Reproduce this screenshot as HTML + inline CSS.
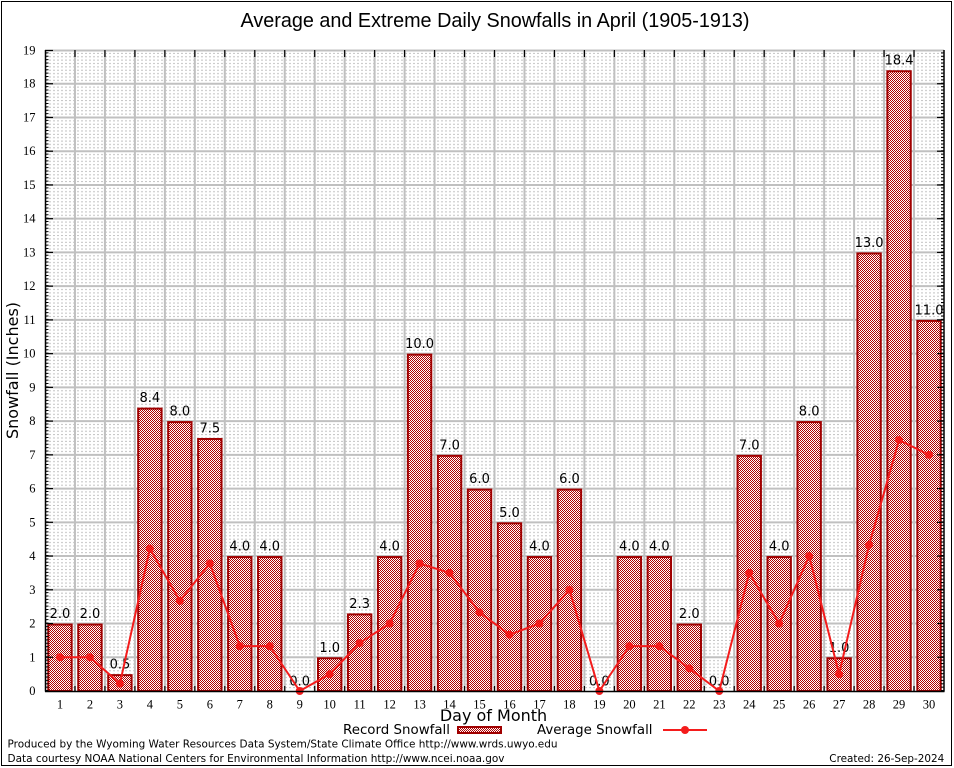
<!DOCTYPE html>
<html><head><meta charset="utf-8"><style>
html,body{margin:0;padding:0;background:#fff;}
svg{display:block;}
</style></head><body>
<svg width="954" height="768" viewBox="0 0 954 768" xmlns="http://www.w3.org/2000/svg">
<defs>
<pattern id="mg" patternUnits="userSpaceOnUse" x="45" y="50" width="4" height="33.737">
<rect x="0" y="2.87" width="2" height="1" fill="#c2c2c2"/>
<rect x="0" y="6.25" width="2" height="1" fill="#c2c2c2"/>
<rect x="0" y="9.62" width="2" height="1" fill="#c2c2c2"/>
<rect x="0" y="13.0" width="2" height="1" fill="#c2c2c2"/>
<rect x="0" y="16.37" width="2" height="1" fill="#c2c2c2"/>
<rect x="0" y="19.74" width="2" height="1" fill="#c2c2c2"/>
<rect x="0" y="23.12" width="2" height="1" fill="#c2c2c2"/>
<rect x="0" y="26.49" width="2" height="1" fill="#c2c2c2"/>
<rect x="0" y="29.86" width="2" height="1" fill="#c2c2c2"/>
</pattern>
<pattern id="ck" patternUnits="userSpaceOnUse" x="0" y="0" width="2" height="2">
<rect x="0" y="0" width="2" height="2" fill="#fff"/>
<rect x="0" y="0" width="1" height="1" fill="#b00000"/>
<rect x="1" y="1" width="1" height="1" fill="#b00000"/>
</pattern>
</defs>
<rect x="0" y="0" width="954" height="768" fill="#fff"/>
<rect x="1.5" y="1.5" width="950" height="764" fill="none" stroke="#000" stroke-width="1"/>

<text x="495" y="27" text-anchor="middle" font-family="Liberation Sans, sans-serif" font-size="20" textLength="509" lengthAdjust="spacingAndGlyphs" fill="#000">Average and Extreme Daily Snowfalls in April (1905-1913)</text>

<rect x="45" y="50" width="899" height="641" fill="url(#mg)"/>

<g stroke="#c0c0c0" stroke-width="2">
<line x1="45" x2="944" y1="657.26" y2="657.26"/>
<line x1="45" x2="944" y1="623.53" y2="623.53"/>
<line x1="45" x2="944" y1="589.79" y2="589.79"/>
<line x1="45" x2="944" y1="556.05" y2="556.05"/>
<line x1="45" x2="944" y1="522.32" y2="522.32"/>
<line x1="45" x2="944" y1="488.58" y2="488.58"/>
<line x1="45" x2="944" y1="454.84" y2="454.84"/>
<line x1="45" x2="944" y1="421.10" y2="421.10"/>
<line x1="45" x2="944" y1="387.37" y2="387.37"/>
<line x1="45" x2="944" y1="353.63" y2="353.63"/>
<line x1="45" x2="944" y1="319.89" y2="319.89"/>
<line x1="45" x2="944" y1="286.16" y2="286.16"/>
<line x1="45" x2="944" y1="252.42" y2="252.42"/>
<line x1="45" x2="944" y1="218.68" y2="218.68"/>
<line x1="45" x2="944" y1="184.95" y2="184.95"/>
<line x1="45" x2="944" y1="151.21" y2="151.21"/>
<line x1="45" x2="944" y1="117.47" y2="117.47"/>
<line x1="45" x2="944" y1="83.73" y2="83.73"/>
<line x1="45" x2="944" y1="50.5" y2="50.5"/>
</g>
<g stroke="#c0c0c0" stroke-width="2">
<line y1="50" y2="691" x1="74.97" x2="74.97"/>
<line y1="50" y2="691" x1="104.93" x2="104.93"/>
<line y1="50" y2="691" x1="134.90" x2="134.90"/>
<line y1="50" y2="691" x1="164.87" x2="164.87"/>
<line y1="50" y2="691" x1="194.83" x2="194.83"/>
<line y1="50" y2="691" x1="224.80" x2="224.80"/>
<line y1="50" y2="691" x1="254.77" x2="254.77"/>
<line y1="50" y2="691" x1="284.73" x2="284.73"/>
<line y1="50" y2="691" x1="314.70" x2="314.70"/>
<line y1="50" y2="691" x1="344.67" x2="344.67"/>
<line y1="50" y2="691" x1="374.63" x2="374.63"/>
<line y1="50" y2="691" x1="404.60" x2="404.60"/>
<line y1="50" y2="691" x1="434.57" x2="434.57"/>
<line y1="50" y2="691" x1="464.53" x2="464.53"/>
<line y1="50" y2="691" x1="494.50" x2="494.50"/>
<line y1="50" y2="691" x1="524.47" x2="524.47"/>
<line y1="50" y2="691" x1="554.43" x2="554.43"/>
<line y1="50" y2="691" x1="584.40" x2="584.40"/>
<line y1="50" y2="691" x1="614.37" x2="614.37"/>
<line y1="50" y2="691" x1="644.33" x2="644.33"/>
<line y1="50" y2="691" x1="674.30" x2="674.30"/>
<line y1="50" y2="691" x1="704.27" x2="704.27"/>
<line y1="50" y2="691" x1="734.23" x2="734.23"/>
<line y1="50" y2="691" x1="764.20" x2="764.20"/>
<line y1="50" y2="691" x1="794.17" x2="794.17"/>
<line y1="50" y2="691" x1="824.13" x2="824.13"/>
<line y1="50" y2="691" x1="854.10" x2="854.10"/>
<line y1="50" y2="691" x1="884.07" x2="884.07"/>
<line y1="50" y2="691" x1="914.03" x2="914.03"/>
</g>

<g fill="url(#ck)" stroke="#a00000" stroke-width="2">
<rect x="48.28" y="624.53" width="23.4" height="66.47"/>
<rect x="78.25" y="624.53" width="23.4" height="66.47"/>
<rect x="108.22" y="675.13" width="23.4" height="15.87"/>
<rect x="138.18" y="408.61" width="23.4" height="282.39"/>
<rect x="168.15" y="422.10" width="23.4" height="268.90"/>
<rect x="198.12" y="438.97" width="23.4" height="252.03"/>
<rect x="228.08" y="557.05" width="23.4" height="133.95"/>
<rect x="258.05" y="557.05" width="23.4" height="133.95"/>
<rect x="318.00" y="658.26" width="23.4" height="32.74"/>
<rect x="347.95" y="614.40" width="23.4" height="76.60"/>
<rect x="377.92" y="557.05" width="23.4" height="133.95"/>
<rect x="407.88" y="354.63" width="23.4" height="336.37"/>
<rect x="437.85" y="455.84" width="23.4" height="235.16"/>
<rect x="467.82" y="489.58" width="23.4" height="201.42"/>
<rect x="497.78" y="523.32" width="23.4" height="167.68"/>
<rect x="527.75" y="557.05" width="23.4" height="133.95"/>
<rect x="557.72" y="489.58" width="23.4" height="201.42"/>
<rect x="617.65" y="557.05" width="23.4" height="133.95"/>
<rect x="647.62" y="557.05" width="23.4" height="133.95"/>
<rect x="677.58" y="624.53" width="23.4" height="66.47"/>
<rect x="737.52" y="455.84" width="23.4" height="235.16"/>
<rect x="767.48" y="557.05" width="23.4" height="133.95"/>
<rect x="797.45" y="422.10" width="23.4" height="268.90"/>
<rect x="827.42" y="658.26" width="23.4" height="32.74"/>
<rect x="857.38" y="253.42" width="23.4" height="437.58"/>
<rect x="887.35" y="71.24" width="23.4" height="619.76"/>
<rect x="917.32" y="320.89" width="23.4" height="370.11"/>
</g>

<g font-family="DejaVu Sans, sans-serif" font-size="13" text-anchor="middle" fill="#000">
<text x="59.98" y="618">2.0</text>
<text x="89.95" y="618">2.0</text>
<text x="119.92" y="668.6">0.5</text>
<text x="149.88" y="402.1">8.4</text>
<text x="179.85" y="415.6">8.0</text>
<text x="209.82" y="432.5">7.5</text>
<text x="239.78" y="550.5">4.0</text>
<text x="269.75" y="550.5">4.0</text>
<text x="299.72" y="685.5">0.0</text>
<text x="329.68" y="651.8">1.0</text>
<text x="359.65" y="607.9">2.3</text>
<text x="389.62" y="550.5">4.0</text>
<text x="419.58" y="348.1">10.0</text>
<text x="449.55" y="449.3">7.0</text>
<text x="479.52" y="483.1">6.0</text>
<text x="509.48" y="516.8">5.0</text>
<text x="539.45" y="550.5">4.0</text>
<text x="569.42" y="483.1">6.0</text>
<text x="599.38" y="685.5">0.0</text>
<text x="629.35" y="550.5">4.0</text>
<text x="659.32" y="550.5">4.0</text>
<text x="689.28" y="618">2.0</text>
<text x="719.25" y="685.5">0.0</text>
<text x="749.22" y="449.3">7.0</text>
<text x="779.18" y="550.5">4.0</text>
<text x="809.15" y="415.6">8.0</text>
<text x="839.12" y="651.8">1.0</text>
<text x="869.08" y="246.9">13.0</text>
<text x="899.05" y="64.7">18.4</text>
<text x="929.02" y="314.4">11.0</text>
</g>

<polyline fill="none" stroke="#f41c1c" stroke-width="2" stroke-linejoin="round" points="59.98,657.26 89.95,657.26 119.92,683.58 149.88,548.63 179.85,600.92 209.82,563.47 239.78,646.13 269.75,646.13 299.72,691 329.68,674.13 359.65,643.09 389.62,623.53 419.58,563.47 449.55,572.92 479.52,612.39 509.48,634.66 539.45,623.53 569.42,589.79 599.38,691 629.35,646.13 659.32,646.13 689.28,668.40 719.25,691 749.22,572.92 779.18,623.53 809.15,556.05 839.12,674.13 869.08,544.92 899.05,440.00 929.02,454.84"/>
<g fill="#f41c1c">
<circle cx="59.98" cy="657.26" r="4"/>
<circle cx="89.95" cy="657.26" r="4"/>
<circle cx="119.92" cy="683.58" r="4"/>
<circle cx="149.88" cy="548.63" r="4"/>
<circle cx="179.85" cy="600.92" r="4"/>
<circle cx="209.82" cy="563.47" r="4"/>
<circle cx="239.78" cy="646.13" r="4"/>
<circle cx="269.75" cy="646.13" r="4"/>
<circle cx="299.72" cy="691" r="4"/>
<circle cx="329.68" cy="674.13" r="4"/>
<circle cx="359.65" cy="643.09" r="4"/>
<circle cx="389.62" cy="623.53" r="4"/>
<circle cx="419.58" cy="563.47" r="4"/>
<circle cx="449.55" cy="572.92" r="4"/>
<circle cx="479.52" cy="612.39" r="4"/>
<circle cx="509.48" cy="634.66" r="4"/>
<circle cx="539.45" cy="623.53" r="4"/>
<circle cx="569.42" cy="589.79" r="4"/>
<circle cx="599.38" cy="691" r="4"/>
<circle cx="629.35" cy="646.13" r="4"/>
<circle cx="659.32" cy="646.13" r="4"/>
<circle cx="689.28" cy="668.40" r="4"/>
<circle cx="719.25" cy="691" r="4"/>
<circle cx="749.22" cy="572.92" r="4"/>
<circle cx="779.18" cy="623.53" r="4"/>
<circle cx="809.15" cy="556.05" r="4"/>
<circle cx="839.12" cy="674.13" r="4"/>
<circle cx="869.08" cy="544.92" r="4"/>
<circle cx="899.05" cy="440.00" r="4"/>
<circle cx="929.02" cy="454.84" r="4"/>
</g>

<g stroke="#000" fill="none">
<line x1="45.5" y1="50" x2="45.5" y2="691.5" stroke-width="1.5"/>
<line x1="45" y1="691.5" x2="944.5" y2="691.5" stroke-width="1.5"/>
<line x1="944" y1="50" x2="944" y2="691.5" stroke-width="1.5"/>
<line x1="47" y1="691" x2="47" y2="50" stroke-width="3" stroke-dasharray="1 2.3737"/>
<line x1="942.5" y1="691" x2="942.5" y2="50" stroke-width="3" stroke-dasharray="1 2.3737"/>
</g>
<g stroke="#000" stroke-width="1.2">
<line x1="45" x2="53" y1="657.26" y2="657.26"/><line x1="937" x2="944" y1="657.26" y2="657.26"/>
<line x1="45" x2="53" y1="623.53" y2="623.53"/><line x1="937" x2="944" y1="623.53" y2="623.53"/>
<line x1="45" x2="53" y1="589.79" y2="589.79"/><line x1="937" x2="944" y1="589.79" y2="589.79"/>
<line x1="45" x2="53" y1="556.05" y2="556.05"/><line x1="937" x2="944" y1="556.05" y2="556.05"/>
<line x1="45" x2="53" y1="522.32" y2="522.32"/><line x1="937" x2="944" y1="522.32" y2="522.32"/>
<line x1="45" x2="53" y1="488.58" y2="488.58"/><line x1="937" x2="944" y1="488.58" y2="488.58"/>
<line x1="45" x2="53" y1="454.84" y2="454.84"/><line x1="937" x2="944" y1="454.84" y2="454.84"/>
<line x1="45" x2="53" y1="421.10" y2="421.10"/><line x1="937" x2="944" y1="421.10" y2="421.10"/>
<line x1="45" x2="53" y1="387.37" y2="387.37"/><line x1="937" x2="944" y1="387.37" y2="387.37"/>
<line x1="45" x2="53" y1="353.63" y2="353.63"/><line x1="937" x2="944" y1="353.63" y2="353.63"/>
<line x1="45" x2="53" y1="319.89" y2="319.89"/><line x1="937" x2="944" y1="319.89" y2="319.89"/>
<line x1="45" x2="53" y1="286.16" y2="286.16"/><line x1="937" x2="944" y1="286.16" y2="286.16"/>
<line x1="45" x2="53" y1="252.42" y2="252.42"/><line x1="937" x2="944" y1="252.42" y2="252.42"/>
<line x1="45" x2="53" y1="218.68" y2="218.68"/><line x1="937" x2="944" y1="218.68" y2="218.68"/>
<line x1="45" x2="53" y1="184.95" y2="184.95"/><line x1="937" x2="944" y1="184.95" y2="184.95"/>
<line x1="45" x2="53" y1="151.21" y2="151.21"/><line x1="937" x2="944" y1="151.21" y2="151.21"/>
<line x1="45" x2="53" y1="117.47" y2="117.47"/><line x1="937" x2="944" y1="117.47" y2="117.47"/>
<line x1="45" x2="53" y1="83.73" y2="83.73"/><line x1="937" x2="944" y1="83.73" y2="83.73"/>
<line x1="45" x2="53" y1="50.5" y2="50.5"/>
</g>
<g stroke="#000" stroke-width="1.2">
<line x1="74.97" x2="74.97" y1="50" y2="57"/><line x1="74.97" x2="74.97" y1="686" y2="691"/>
<line x1="104.93" x2="104.93" y1="50" y2="57"/><line x1="104.93" x2="104.93" y1="686" y2="691"/>
<line x1="134.90" x2="134.90" y1="50" y2="57"/><line x1="134.90" x2="134.90" y1="686" y2="691"/>
<line x1="164.87" x2="164.87" y1="50" y2="57"/><line x1="164.87" x2="164.87" y1="686" y2="691"/>
<line x1="194.83" x2="194.83" y1="50" y2="57"/><line x1="194.83" x2="194.83" y1="686" y2="691"/>
<line x1="224.80" x2="224.80" y1="50" y2="57"/><line x1="224.80" x2="224.80" y1="686" y2="691"/>
<line x1="254.77" x2="254.77" y1="50" y2="57"/><line x1="254.77" x2="254.77" y1="686" y2="691"/>
<line x1="284.73" x2="284.73" y1="50" y2="57"/><line x1="284.73" x2="284.73" y1="686" y2="691"/>
<line x1="314.70" x2="314.70" y1="50" y2="57"/><line x1="314.70" x2="314.70" y1="686" y2="691"/>
<line x1="344.67" x2="344.67" y1="50" y2="57"/><line x1="344.67" x2="344.67" y1="686" y2="691"/>
<line x1="374.63" x2="374.63" y1="50" y2="57"/><line x1="374.63" x2="374.63" y1="686" y2="691"/>
<line x1="404.60" x2="404.60" y1="50" y2="57"/><line x1="404.60" x2="404.60" y1="686" y2="691"/>
<line x1="434.57" x2="434.57" y1="50" y2="57"/><line x1="434.57" x2="434.57" y1="686" y2="691"/>
<line x1="464.53" x2="464.53" y1="50" y2="57"/><line x1="464.53" x2="464.53" y1="686" y2="691"/>
<line x1="494.50" x2="494.50" y1="50" y2="57"/><line x1="494.50" x2="494.50" y1="686" y2="691"/>
<line x1="524.47" x2="524.47" y1="50" y2="57"/><line x1="524.47" x2="524.47" y1="686" y2="691"/>
<line x1="554.43" x2="554.43" y1="50" y2="57"/><line x1="554.43" x2="554.43" y1="686" y2="691"/>
<line x1="584.40" x2="584.40" y1="50" y2="57"/><line x1="584.40" x2="584.40" y1="686" y2="691"/>
<line x1="614.37" x2="614.37" y1="50" y2="57"/><line x1="614.37" x2="614.37" y1="686" y2="691"/>
<line x1="644.33" x2="644.33" y1="50" y2="57"/><line x1="644.33" x2="644.33" y1="686" y2="691"/>
<line x1="674.30" x2="674.30" y1="50" y2="57"/><line x1="674.30" x2="674.30" y1="686" y2="691"/>
<line x1="704.27" x2="704.27" y1="50" y2="57"/><line x1="704.27" x2="704.27" y1="686" y2="691"/>
<line x1="734.23" x2="734.23" y1="50" y2="57"/><line x1="734.23" x2="734.23" y1="686" y2="691"/>
<line x1="764.20" x2="764.20" y1="50" y2="57"/><line x1="764.20" x2="764.20" y1="686" y2="691"/>
<line x1="794.17" x2="794.17" y1="50" y2="57"/><line x1="794.17" x2="794.17" y1="686" y2="691"/>
<line x1="824.13" x2="824.13" y1="50" y2="57"/><line x1="824.13" x2="824.13" y1="686" y2="691"/>
<line x1="854.10" x2="854.10" y1="50" y2="57"/><line x1="854.10" x2="854.10" y1="686" y2="691"/>
<line x1="884.07" x2="884.07" y1="50" y2="57"/><line x1="884.07" x2="884.07" y1="686" y2="691"/>
<line x1="914.03" x2="914.03" y1="50" y2="57"/><line x1="914.03" x2="914.03" y1="686" y2="691"/>
</g>

<g font-family="Liberation Serif, serif" font-size="12.5" text-anchor="end" fill="#000">
<text x="35.5" y="695">0</text>
<text x="35.5" y="661.3">1</text>
<text x="35.5" y="627.5">2</text>
<text x="35.5" y="593.8">3</text>
<text x="35.5" y="560">4</text>
<text x="35.5" y="526.3">5</text>
<text x="35.5" y="492.6">6</text>
<text x="35.5" y="458.8">7</text>
<text x="35.5" y="425.1">8</text>
<text x="35.5" y="391.4">9</text>
<text x="35.5" y="357.6">10</text>
<text x="35.5" y="323.9">11</text>
<text x="35.5" y="290.2">12</text>
<text x="35.5" y="256.4">13</text>
<text x="35.5" y="222.7">14</text>
<text x="35.5" y="189">15</text>
<text x="35.5" y="155.2">16</text>
<text x="35.5" y="121.5">17</text>
<text x="35.5" y="87.7">18</text>
<text x="35.5" y="54.5">19</text>
</g>

<g font-family="Liberation Serif, serif" font-size="12.5" text-anchor="middle" fill="#000">
<text x="59.98" y="708.5">1</text>
<text x="89.95" y="708.5">2</text>
<text x="119.92" y="708.5">3</text>
<text x="149.88" y="708.5">4</text>
<text x="179.85" y="708.5">5</text>
<text x="209.82" y="708.5">6</text>
<text x="239.78" y="708.5">7</text>
<text x="269.75" y="708.5">8</text>
<text x="299.72" y="708.5">9</text>
<text x="329.68" y="708.5">10</text>
<text x="359.65" y="708.5">11</text>
<text x="389.62" y="708.5">12</text>
<text x="419.58" y="708.5">13</text>
<text x="449.55" y="708.5">14</text>
<text x="479.52" y="708.5">15</text>
<text x="509.48" y="708.5">16</text>
<text x="539.45" y="708.5">17</text>
<text x="569.42" y="708.5">18</text>
<text x="599.38" y="708.5">19</text>
<text x="629.35" y="708.5">20</text>
<text x="659.32" y="708.5">21</text>
<text x="689.28" y="708.5">22</text>
<text x="719.25" y="708.5">23</text>
<text x="749.22" y="708.5">24</text>
<text x="779.18" y="708.5">25</text>
<text x="809.15" y="708.5">26</text>
<text x="839.12" y="708.5">27</text>
<text x="869.08" y="708.5">28</text>
<text x="899.05" y="708.5">29</text>
<text x="929.02" y="708.5">30</text>
</g>

<text x="493.5" y="721" text-anchor="middle" font-family="DejaVu Sans, sans-serif" font-size="16" fill="#000">Day of Month</text>
<text transform="translate(18,370.5) rotate(-90)" text-anchor="middle" font-family="DejaVu Sans, sans-serif" font-size="16" fill="#000">Snowfall (Inches)</text>

<text x="343" y="734" font-family="DejaVu Sans, sans-serif" font-size="13.3" textLength="107" lengthAdjust="spacingAndGlyphs" fill="#000">Record Snowfall</text>
<rect x="458" y="727" width="43" height="6" fill="url(#ck)" stroke="#a00000" stroke-width="2"/>
<text x="537" y="734" font-family="DejaVu Sans, sans-serif" font-size="13.3" textLength="115.5" lengthAdjust="spacingAndGlyphs" fill="#000">Average Snowfall</text>
<line x1="663" y1="730" x2="707" y2="730" stroke="#f41c1c" stroke-width="2"/>
<circle cx="685" cy="730" r="4" fill="#f41c1c"/>

<text x="7.5" y="747.5" font-family="DejaVu Sans, sans-serif" font-size="11" textLength="550" lengthAdjust="spacingAndGlyphs" fill="#000">Produced by the Wyoming Water Resources Data System/State Climate Office http://www.wrds.uwyo.edu</text>
<text x="7.5" y="762" font-family="DejaVu Sans, sans-serif" font-size="11" textLength="497" lengthAdjust="spacingAndGlyphs" fill="#000">Data courtesy NOAA National Centers for Environmental Information http://www.ncei.noaa.gov</text>
<text x="944.3" y="762" text-anchor="end" font-family="DejaVu Sans, sans-serif" font-size="11" textLength="115" lengthAdjust="spacingAndGlyphs" fill="#000">Created: 26-Sep-2024</text>
</svg>
</body></html>
